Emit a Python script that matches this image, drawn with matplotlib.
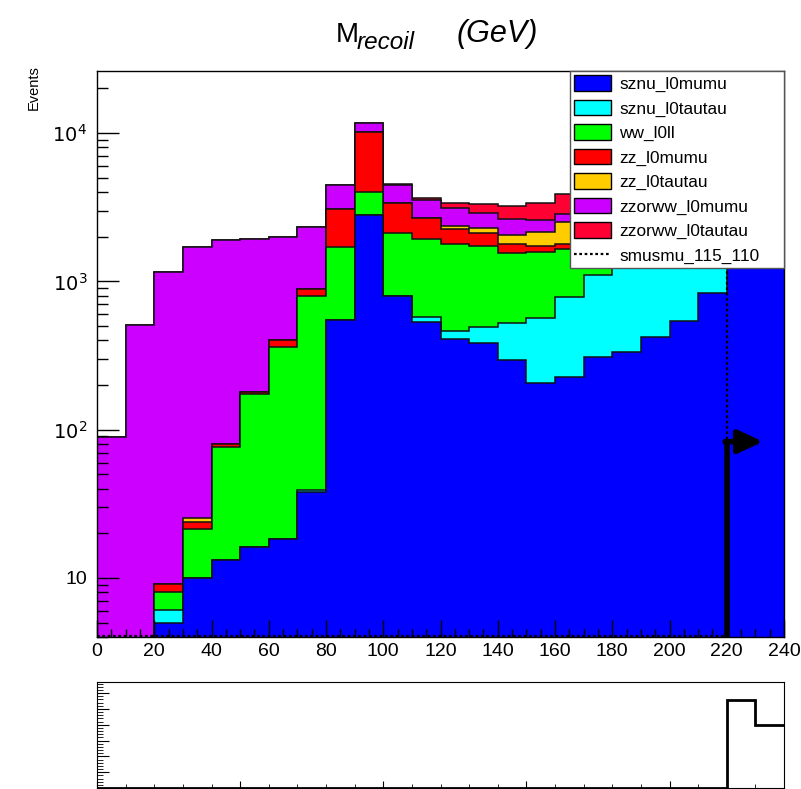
import numpy as np
import matplotlib
matplotlib.use("Agg")
import matplotlib.pyplot as plt
from matplotlib.patches import Patch
from matplotlib.lines import Line2D
from matplotlib.ticker import MultipleLocator, LogLocator, NullFormatter, FixedLocator, FixedFormatter

plt.rcParams["font.family"] = ["Liberation Sans", "DejaVu Sans"]

# ── Data (10 GeV bins, 0-240 GeV) ─────────────────────────────────────────────
edges = np.arange(0, 250, 10)

sznu_l0mumu     = [0, 0, 5.0, 10.0, 13.2, 16.3, 18.2, 38, 548, 2800, 796, 533,
                   410, 386, 294, 207, 225, 307, 332, 424, 540, 837, 2400, 2000]
sznu_l0tautau   = [0, 0, 1.1, 0, 0, 0, 0, 1, 0, 0, 0, 38,
                   54, 108, 232, 363, 560, 803, 1000, 1100, 1150, 900, 0, 0]
ww_l0ll         = [0, 0, 1.9, 11.3, 63.6, 157.7, 344, 757, 1162, 1220, 1332, 1349,
                   1314, 1236, 1035, 1015, 860, 600, 450, 350, 280, 200, 0, 0]
zz_l0mumu       = [0, 0, 1.05, 2.7, 2.8, 6, 40, 95, 1363, 6080, 1262, 765,
                   465, 377, 217, 145, 141, 130, 120, 110, 100, 80, 0, 0]
zz_l0tautau     = [0, 0, 0, 1.2, 0, 0, 0, 0, 0, 0, 0, 0,
                   118, 180, 273, 429, 739, 900, 1000, 1050, 1000, 800, 0, 0]
zzorww_l0mumu   = [89, 507, 1146, 1670, 1818, 1740, 1598, 1444, 1387, 1640, 1050, 845,
                   746, 590, 567, 429, 308, 250, 200, 180, 150, 120, 0, 0]
zzorww_l0tautau = [0, 0, 0, 0, 0, 0, 0, 0, 0, 0, 110, 100,
                   250, 429, 603, 802, 1047, 1300, 1500, 1600, 1600, 1400, 0, 0]

smusmu_115_110  = [0] * 22 + [3000, 2100]
lower_panel     = [0] * 22 + [5.57, 3.98]

names  = ["sznu_l0mumu", "sznu_l0tautau", "ww_l0ll", "zz_l0mumu",
          "zz_l0tautau", "zzorww_l0mumu", "zzorww_l0tautau"]
series = [sznu_l0mumu, sznu_l0tautau, ww_l0ll, zz_l0mumu,
          zz_l0tautau, zzorww_l0mumu, zzorww_l0tautau]
colors = ["#0000ff", "#00ffff", "#00ff00", "#ff0000", "#ffcc00", "#cc00ff", "#ff0033"]

CUT = 220          # cut arrow position (GeV)
ARROW_Y = 83
ARROW_END = 232.7
YMIN, YMAX = 4.0, 26200
FLOOR = 1e-2

# ── Figure ────────────────────────────────────────────────────────────────────
W, H = 801, 789
fig = plt.figure(figsize=(W / 100, H / 100), dpi=100)
ax = fig.add_axes([97 / W, 1 - 637 / H, 687 / W, 566 / H])
ax2 = fig.add_axes([97 / W, 1 / H, 687 / W, 106 / H])

cum = np.cumsum(np.array(series, dtype=float), axis=0)

# draw from the top of the stack down, like THStack
for i in range(len(series) - 1, -1, -1):
    top = np.clip(cum[i], FLOOR, None)
    ax.stairs(top, edges, baseline=FLOOR, fill=True, color=colors[i], lw=0)
    ax.stairs(top, edges, baseline=None, color="#111111", lw=1.1)

dots = (0, (1.2, 1.2))
sig = np.clip(np.array(smusmu_115_110, dtype=float), YMIN * 1.02, None)
ax.stairs(sig, edges, baseline=None, color="black", lw=1.6, ls=dots)

# cut arrow
ax.plot([CUT, CUT], [YMIN, ARROW_Y], color="black", lw=4, solid_capstyle="butt", zorder=5)
ax.annotate("", xy=(ARROW_END, ARROW_Y), xytext=(CUT - 0.6, ARROW_Y),
            arrowprops=dict(arrowstyle="-|>,head_length=1.5,head_width=0.7",
                            color="black", lw=4, shrinkA=0, shrinkB=0), zorder=5)

ax.set_xlim(0, 240)
ax.set_yscale("log")
ax.set_ylim(YMIN, YMAX)
ax.xaxis.set_major_locator(MultipleLocator(20))
ax.xaxis.set_minor_locator(MultipleLocator(5))
ax.yaxis.set_major_locator(FixedLocator([10, 100, 1000, 10000]))
ax.yaxis.set_major_formatter(FixedFormatter(["10", "$10^{2}$", "$10^{3}$", "$10^{4}$"]))
ax.yaxis.set_minor_locator(LogLocator(base=10, subs=np.arange(2, 10)))
ax.yaxis.set_minor_formatter(NullFormatter())
ax.tick_params(axis="x", which="major", direction="in", length=12, width=1, labelsize=14, pad=4)
ax.tick_params(axis="x", which="minor", direction="in", length=6, width=1)
ax.tick_params(axis="y", which="major", direction="in", length=15.5, width=1, labelsize=14, pad=7)
ax.tick_params(axis="y", which="minor", direction="in", length=7.8, width=1)
for s in ax.spines.values():
    s.set_linewidth(1)

ax.set_ylabel("Events", loc="top", fontsize=10.5)
ax.yaxis.set_label_coords(-0.082, 1.01)

# title pieces: M, italic subscript, italic unit
fig.text(336 / W, 1 - 42 / H, "M", ha="left", va="baseline", fontsize=20)
fig.text(357 / W, 1 - 49 / H, "recoil", ha="left", va="baseline", fontsize=17.5,
         style="italic")
fig.text(457 / W, 1 - 42 / H, "(GeV)", ha="left", va="baseline", fontsize=22,
         style="italic")

handles = [Patch(facecolor=c, edgecolor="black", lw=1) for c in colors]
handles.append(Line2D([], [], color="black", lw=1.6, ls=dots))
leg = ax.legend(handles, names + ["smusmu_115_110"], loc="upper left",
                bbox_to_anchor=(473 / 687, 0.0, 214 / 687, 1.0), mode="expand",
                borderaxespad=0, fancybox=False, framealpha=1, edgecolor="#555555",
                fontsize=12.4, handlelength=2.15, handleheight=1.0,
                labelspacing=0.45, handletextpad=0.47, borderpad=0.25)
leg.get_frame().set_linewidth(1)
leg.set_zorder(10)

# lower panel
ax2.stairs(lower_panel, edges, baseline=None, color="black", lw=2)
ax2.set_xlim(0, 240)
ax2.set_ylim(0, 6.7)
ax2.xaxis.set_major_locator(MultipleLocator(50))
ax2.xaxis.set_minor_locator(MultipleLocator(10))
ax2.yaxis.set_major_locator(MultipleLocator(1))
ax2.yaxis.set_minor_locator(MultipleLocator(0.2))
ax2.tick_params(which="both", direction="in", labelbottom=False, labelleft=False)
ax2.tick_params(axis="y", which="major", length=8.5)
ax2.tick_params(axis="y", which="minor", length=4.3)
ax2.tick_params(axis="x", which="major", length=5)
ax2.tick_params(axis="x", which="minor", length=3)

fig.savefig("out.png", dpi=100)
